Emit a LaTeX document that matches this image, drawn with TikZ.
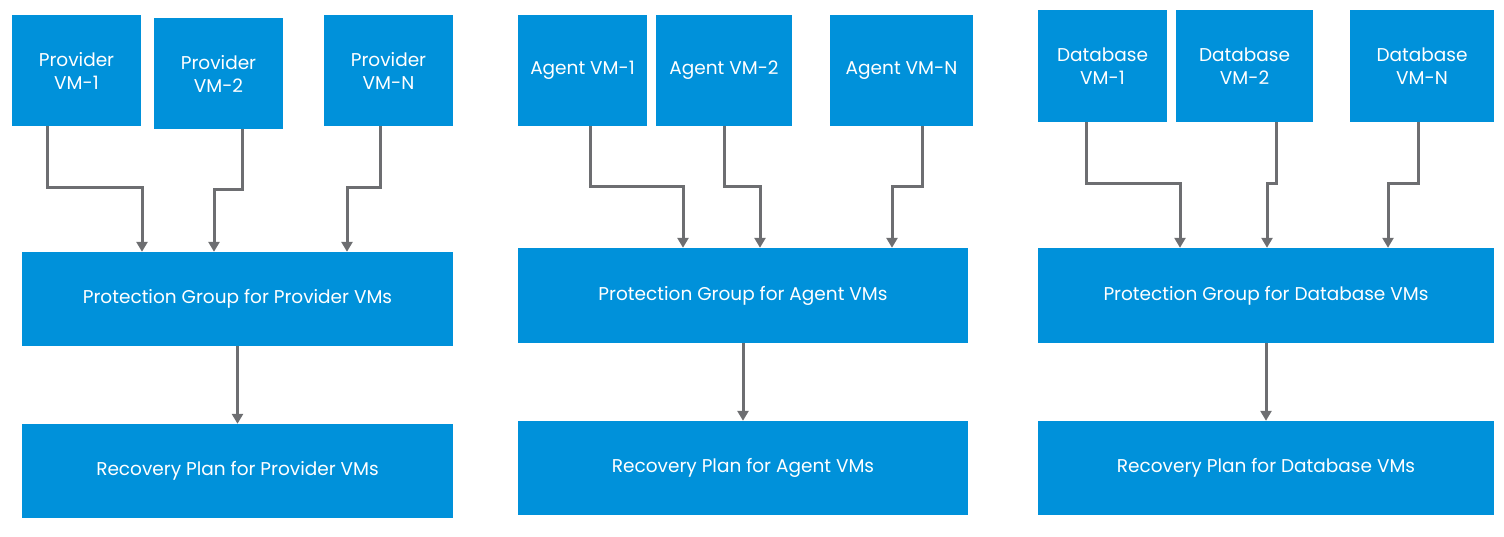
\documentclass[tikz,border=0pt]{standalone}
\usepackage{fontspec}
\setmainfont{Poppins}
\usetikzlibrary{arrows.meta}

\definecolor{vmblue}{HTML}{0091DA}
\definecolor{flowgray}{HTML}{6D6E71}

\tikzset{
  vmbox/.style={fill=vmblue, text=white, align=center, inner sep=0pt,
    font=\fontsize{18.5}{23}\selectfont},
  flow/.style={draw=flowgray, line width=3pt, -{Triangle[width=11pt,length=10pt]}}
}

\begin{document}
\begin{tikzpicture}[x=1pt, y=-1pt]
    \useasboundingbox (0,0) rectangle (1504,537);
    % provider group
    \node[vmbox, minimum width=129pt, minimum height=111pt] (pv1) at (76.5,70.5) {Provider\\VM-1};
    \node[vmbox, minimum width=129pt, minimum height=111pt] (pv2) at (218.5,73.5) {Provider\\VM-2};
    \node[vmbox, minimum width=129pt, minimum height=111pt] (pvn) at (388.5,70.5) {Provider\\VM-N};
    \node[vmbox, minimum width=431pt, minimum height=94pt] (pgp) at (237.5,299) {Protection Group for Provider VMs};
    \node[vmbox, minimum width=431pt, minimum height=94pt] (rpp) at (237.5,471) {Recovery Plan for Provider VMs};
    \draw[flow] (47,0 |- pv1.south) |- (142,188) -- (142,0 |- pgp.north);
    \draw[flow] (242,0 |- pv2.south) |- (214,190) -- (214,0 |- pgp.north);
    \draw[flow] (380,0 |- pvn.south) |- (347,188) -- (347,0 |- pgp.north);
    \draw[flow] (pgp) -- (rpp);
    % agent group
    \node[vmbox, minimum width=129pt, minimum height=111pt] (ag1) at (582.5,70.5) {Agent VM-1};
    \node[vmbox, minimum width=136pt, minimum height=111pt] (ag2) at (724,70.5) {Agent VM-2};
    \node[vmbox, minimum width=143pt, minimum height=111pt] (agn) at (901.5,70.5) {Agent VM-N};
    \node[vmbox, minimum width=450pt, minimum height=95pt] (pga) at (743,295.5) {Protection Group for Agent VMs};
    \node[vmbox, minimum width=450pt, minimum height=94pt] (rpa) at (743,468) {Recovery Plan for Agent VMs};
    \draw[flow] (590,0 |- ag1.south) |- (683,187) -- (683,0 |- pga.north);
    \draw[flow] (724,0 |- ag2.south) |- (760,187) -- (760,0 |- pga.north);
    \draw[flow] (922,0 |- agn.south) |- (892,187) -- (892,0 |- pga.north);
    \draw[flow] (pga) -- (rpa);
    % database group
    \node[vmbox, minimum width=129pt, minimum height=112pt] (db1) at (1102.5,66) {Database\\VM-1};
    \node[vmbox, minimum width=137pt, minimum height=112pt] (db2) at (1244.5,66) {Database\\VM-2};
    \node[vmbox, minimum width=144pt, minimum height=112pt] (dbn) at (1422,66) {Database\\VM-N};
    \node[vmbox, minimum width=456pt, minimum height=95pt] (pgd) at (1266,295.5) {Protection Group for Database VMs};
    \node[vmbox, minimum width=456pt, minimum height=94pt] (rpd) at (1266,468) {Recovery Plan for Database VMs};
    \draw[flow] (1086,0 |- db1.south) |- (1180,184) -- (1180,0 |- pgd.north);
    \draw[flow] (1276,0 |- db2.south) |- (1267,184) -- (1267,0 |- pgd.north);
    \draw[flow] (1418,0 |- dbn.south) |- (1388,184) -- (1388,0 |- pgd.north);
    \draw[flow] (pgd) -- (rpd);
\end{tikzpicture}
\end{document}
